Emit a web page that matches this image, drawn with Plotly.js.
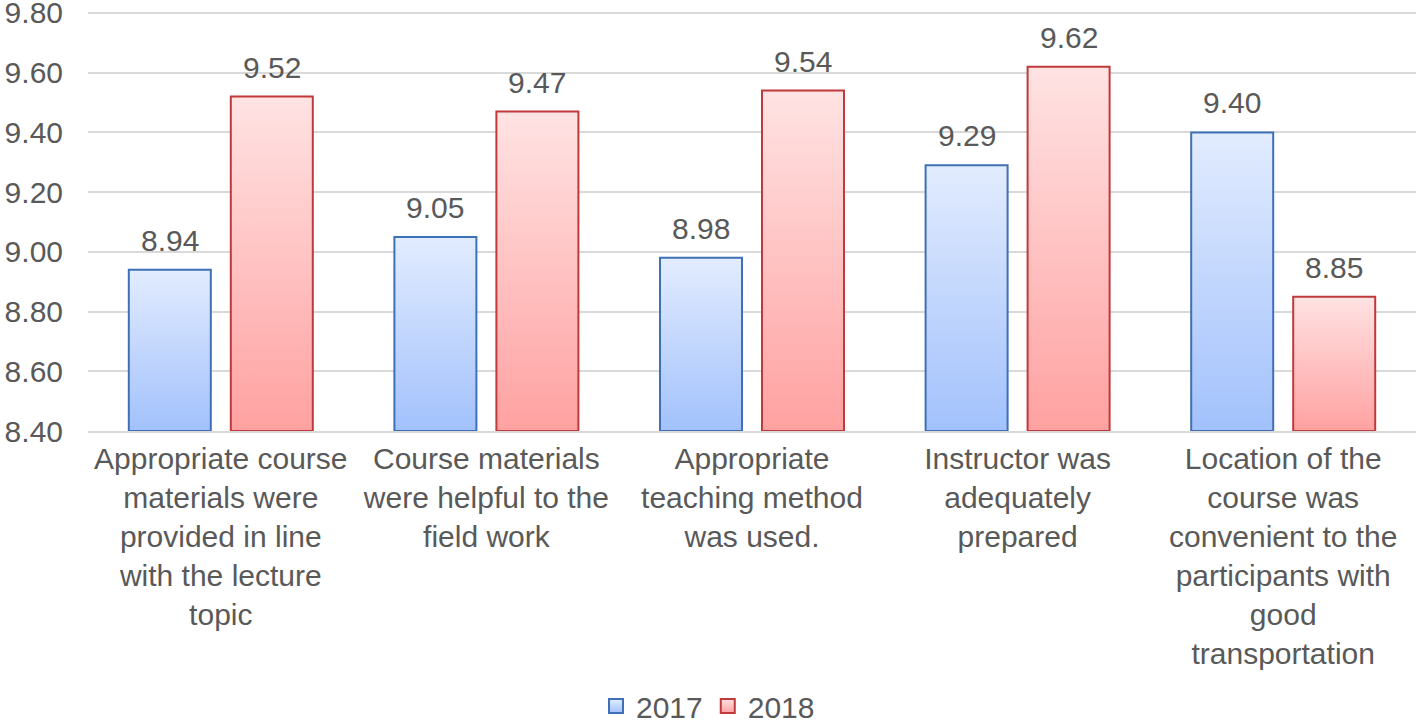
<!DOCTYPE html>
<html>
<head>
<meta charset="utf-8">
<script src="https://cdn.plot.ly/plotly-3.0.1.min.js"></script>
<style>
  html, body { margin: 0; padding: 0; background: #fff; }
  #chart { width: 1416px; height: 724px; }
</style>
</head>
<body>
<div id="chart"></div>
<script>
let categories = [
  'Appropriate course<br>materials were<br>provided in line<br>with the lecture<br>topic',
  'Course materials<br>were helpful to the<br>field work',
  'Appropriate<br>teaching method<br>was used.',
  'Instructor was<br>adequately<br>prepared',
  'Location of the<br>course was<br>convenient to the<br>participants with<br>good<br>transportation'
];
let values2017 = [8.94, 9.05, 8.98, 9.29, 9.40];
let values2018 = [9.52, 9.47, 9.54, 9.62, 8.85];
let axisMin = 8.4;

let fontFam = 'Liberation Sans, Arial, sans-serif';
let gray = '#595959';

// bars start at the axis floor so the gradient spans only the visible part
let trace2017 = {
  type: 'bar',
  name: '2017',
  x: categories,
  y: values2017.map(v => v - axisMin),
  base: axisMin,
  hovertemplate: '%{x}: %{customdata:.2f}<extra>2017</extra>',
  customdata: values2017,
  marker: {color: '#c3d6fb', line: {color: '#3f70b5', width: 2}}
};
let trace2018 = {
  type: 'bar',
  name: '2018',
  x: categories,
  y: values2018.map(v => v - axisMin),
  base: axisMin,
  hovertemplate: '%{x}: %{customdata:.2f}<extra>2018</extra>',
  customdata: values2018,
  marker: {color: '#ffc3c3', line: {color: '#c0393b', width: 2}}
};

// value labels above bars
let annotations = [];
values2017.forEach((v, i) => {
  annotations.push({x: categories[i], y: v, text: v.toFixed(2), xshift: -51, yshift: 11,
    yanchor: 'bottom', showarrow: false, font: {size: 30, color: gray, family: fontFam}});
});
values2018.forEach((v, i) => {
  annotations.push({x: categories[i], y: v, text: v.toFixed(2), xshift: 51, yshift: 11,
    yanchor: 'bottom', showarrow: false, font: {size: 30, color: gray, family: fontFam}});
});

let layout = {
  width: 1416,
  height: 724,
  margin: {l: 88, r: 0, t: 4, b: 293, autoexpand: false},
  paper_bgcolor: '#fff',
  plot_bgcolor: '#fff',
  font: {family: fontFam, color: gray, size: 30},
  barmode: 'group',
  bargap: 0.232,
  bargroupgap: 0.196,
  showlegend: true,
  legend: {
    orientation: 'h',
    x: 0.5, xanchor: 'center', xref: 'container',
    y: 0.025, yanchor: 'middle', yref: 'container',
    font: {size: 30, color: gray},
    itemwidth: 30
  },
  xaxis: {
    tickfont: {size: 30, color: gray},
    showline: true, linecolor: '#d9d9d9', linewidth: 1.5,
    ticks: '', tickangle: 0,
    automargin: false
  },
  yaxis: {
    range: [axisMin, 9.83],
    dtick: 0.2,
    tick0: axisMin,
    tickformat: '.2f',
    gridcolor: '#d9d9d9',
    gridwidth: 1.5,
    zeroline: false,
    tickfont: {size: 30, color: gray},
    ticklabelstandoff: 24,
    ticklabeloverflow: 'allow',
    automargin: false
  },
  annotations: annotations
};

// swap flat fills for vertical gradients like the original
let ns = 'http://www.w3.org/2000/svg';
let gradColors = {gBlue: ['#e2ecfe', '#a2c1fc'], gRed: ['#ffe3e3', '#ffa1a1']};
let grads = ['gBlue', 'gRed'];

let makeGrad = function(defs, id) {
  let g = document.createElementNS(ns, 'linearGradient');
  g.setAttribute('id', id);
  g.setAttribute('x1', '0'); g.setAttribute('y1', '0');
  g.setAttribute('x2', '0'); g.setAttribute('y2', '1');
  gradColors[id].forEach((c, k) => {
    let stop = document.createElementNS(ns, 'stop');
    stop.setAttribute('offset', String(k));
    stop.setAttribute('stop-color', c);
    g.appendChild(stop);
  });
  defs.appendChild(g);
};

let addGradients = function() {
  let svg = document.querySelector('#chart .main-svg');
  if (!svg) return;
  let defs = svg.querySelector('defs');
  if (!defs) return;
  grads.forEach(id => { if (!defs.querySelector('#' + id)) makeGrad(defs, id); });
  document.querySelectorAll('#chart .barlayer .trace').forEach((t, i) => {
    t.querySelectorAll('.point path').forEach(p => {
      if (p.style.fill.indexOf(grads[i]) < 0) p.style.fill = 'url(#' + grads[i] + ')';
    });
  });
  document.querySelectorAll('#chart .legend .traces').forEach((t, i) => {
    t.querySelectorAll('.legendpoints path').forEach(p => {
      if (p.style.fill.indexOf(grads[i]) < 0) {
        p.setAttribute('d', 'M7,7H-7V-7H7Z');
        p.style.fill = 'url(#' + grads[i] + ')';
      }
    });
  });
};

let chart = document.getElementById('chart');
let observer = new MutationObserver(addGradients);
observer.observe(chart, {childList: true, subtree: true, attributes: true, attributeFilter: ['style', 'd']});

Plotly.newPlot(chart, [trace2017, trace2018], layout, {displayModeBar: false}).then(addGradients);
</script>
</body>
</html>
